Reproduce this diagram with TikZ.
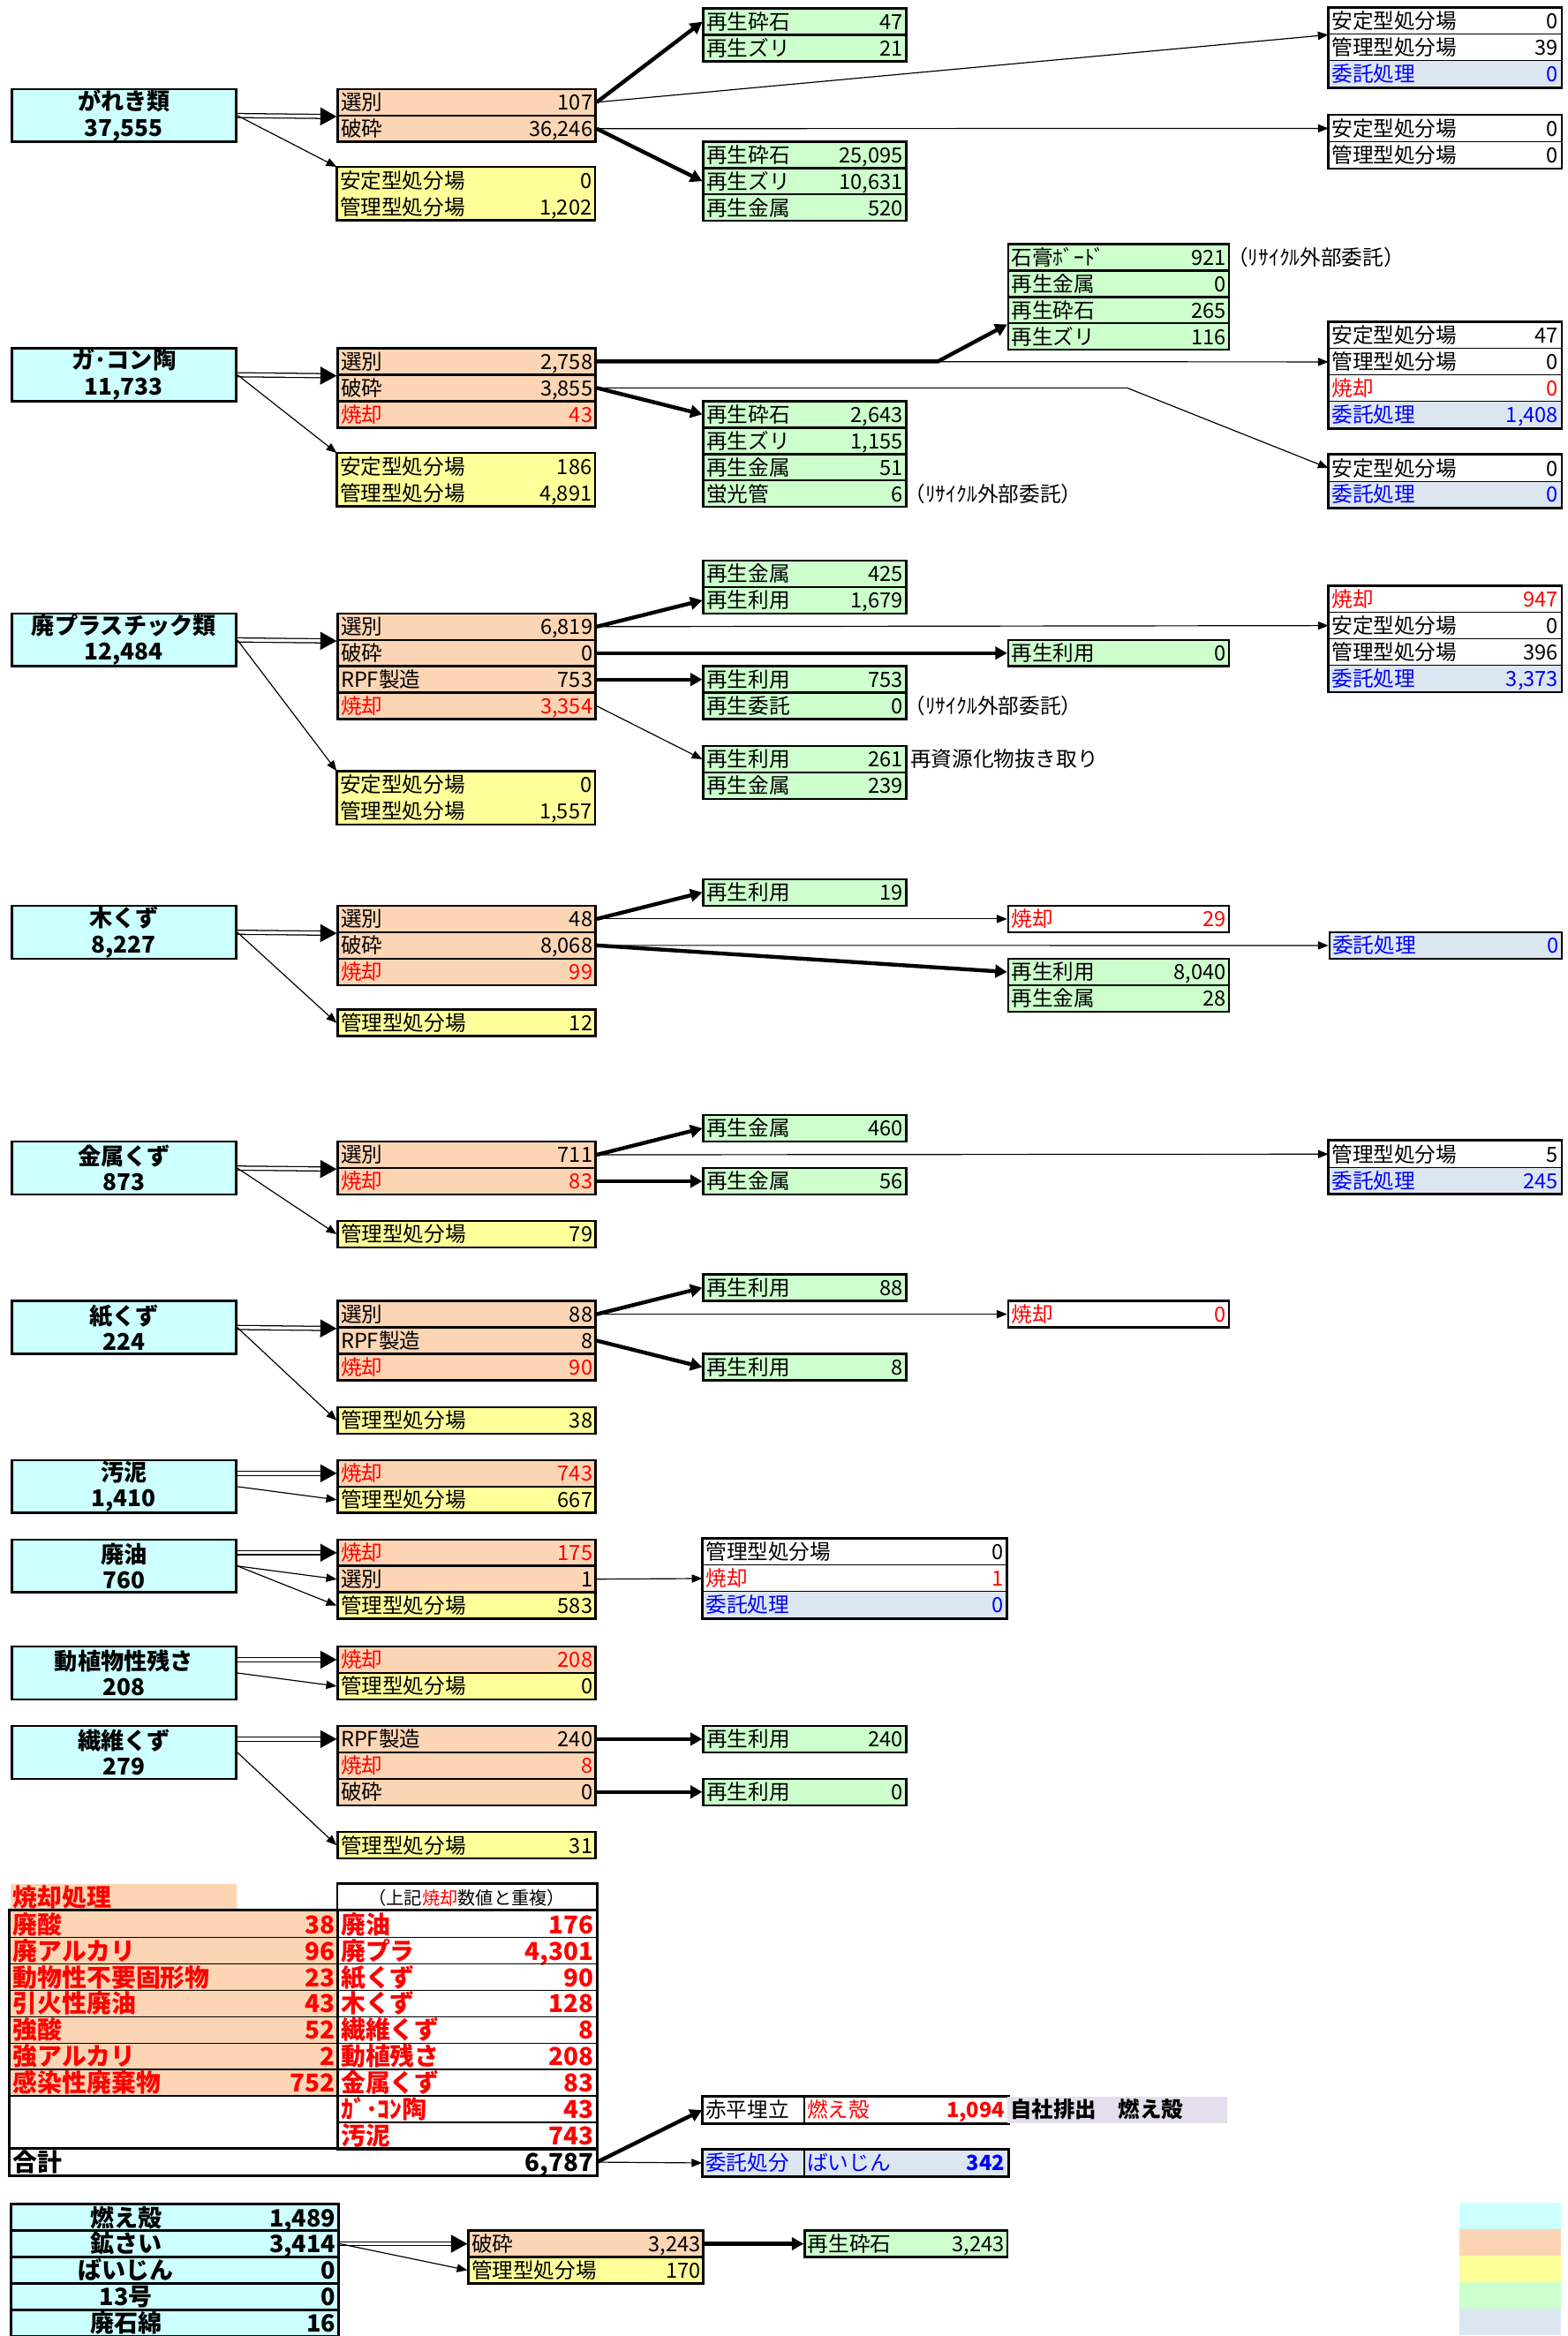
\documentclass[tikz,border=0pt]{standalone}
\usepackage{fontspec}
\setmainfont{Noto Sans CJK JP}
\usetikzlibrary{arrows.meta}
\definecolor{srccyan}{HTML}{CCFFFF}
\definecolor{procorange}{HTML}{FCD5B4}
\definecolor{landyellow}{HTML}{FFFF99}
\definecolor{recygreen}{HTML}{CCFFCC}
\definecolor{itakublue}{HTML}{DCE6F1}
\definecolor{jishalav}{HTML}{E4DFEC}

\begin{document}
\begin{tikzpicture}[x=1pt, y=-1pt,
    font=\fontsize{14}{16}\selectfont,
    cell/.style={anchor=north west, inner xsep=2pt, inner ysep=0pt, minimum height=17.75pt, text height=12.5pt, text depth=2pt},
    colB/.style={text width=169pt},
    colC/.style={text width=132pt},
    colD/.style={text width=144pt},
    colE/.style={text width=152pt},
    src/.style={anchor=north west, draw, fill=srccyan, line width=1.6pt, inner sep=0pt, minimum width=150.7pt, minimum height=35.5pt, align=center, font=\bfseries\fontsize{15.5}{17.5}\selectfont},
    proc/.style={cell, colB, draw, fill=procorange, line width=1.5pt},
    land/.style={cell, colB, fill=landyellow},
    recy/.style={cell, draw, fill=recygreen, line width=1.5pt},
    dest/.style={cell, colE, draw, line width=0.6pt},
    burn/.style={text=red},
    itaku/.style={fill=itakublue, text=blue},
    boxframe/.style={line width=1.6pt},
    tcell/.style={cell, draw, line width=0.9pt, text=red, font=\bfseries\fontsize{16.5}{17}\selectfont, text height=14.2pt, text depth=1.6pt},
    btab/.style={cell, draw, fill=srccyan, line width=1.5pt, text width=215.8pt, font=\bfseries\fontsize{16}{17}\selectfont, text height=14pt, text depth=1.6pt},
    note/.style={anchor=west, inner sep=0pt, xshift=-2pt},
    lean/.style={line width=0.7pt, -{Triangle[length=7pt,width=5.5pt]}},
    heavy/.style={line width=2.6pt, -{Triangle[length=8pt,width=8.5pt]}},
    dbl/.style={double, double distance=2pt, line width=0.75pt, -{Triangle[length=11pt,width=12pt]}}
  ]
  \useasboundingbox (0,0) rectangle (1052,1568);

  % がれき類
  \node[src] (src1) at (7,59) {がれき類\\37,555};
  \node[proc] (p1a) at (226,59) {選別\hfill 107};
  \node[proc] (p1b) at (226,76.75) {破砕\hfill 36,246};
  \node[land] (l1a) at (226,112) {安定型処分場\hfill 0};
  \node[land] (l1b) at (226,129.75) {管理型処分場\hfill 1,202};
  \draw[boxframe] (l1a.north west) rectangle (l1b.south east);
  \node[recy, colC] (g1a1) at (471.4,5) {再生砕石\hfill 47};
  \node[recy, colC] (g1a2) at (471.4,22.75) {再生ズリ\hfill 21};
  \node[recy, colC] (g1b1) at (471.4,94.25) {再生砕石\hfill 25,095};
  \node[recy, colC] (g1b2) at (471.4,112) {再生ズリ\hfill 10,631};
  \node[recy, colC] (g1b3) at (471.4,129.75) {再生金属\hfill 520};
  \node[dest] (r1a1) at (891.6,5) {安定型処分場\hfill 0};
  \node[dest] (r1a2) at (891.6,22.75) {管理型処分場\hfill 39};
  \node[dest, itaku] (r1a3) at (891.6,40.5) {委託処理\hfill 0};
  \draw[boxframe] (r1a1.north west) rectangle (r1a3.south east);
  \node[dest] (r1b1) at (891.6,77) {安定型処分場\hfill 0};
  \node[dest] (r1b2) at (891.6,94.75) {管理型処分場\hfill 0};
  \draw[boxframe] (r1b1.north west) rectangle (r1b2.south east);
  \draw[dbl] (src1.east) -- (p1a.south west);
  \draw[lean] (src1.east) -- (l1a.north west);
  \draw[heavy] (p1a.east) -- (g1a1.west);
  \draw[lean] (p1a.east) -- (r1a1.south west);
  \draw[lean] (p1b.east) -- (r1b1.west);
  \draw[heavy] (p1b.east) -- (g1b2.west);

  % ガ・コン陶
  \node[src] (src2) at (7,233) {ガ･コン陶\\11,733};
  \node[proc] (p2a) at (226,233) {選別\hfill 2,758};
  \node[proc] (p2b) at (226,250.75) {破砕\hfill 3,855};
  \node[proc, burn] (p2c) at (226,268.5) {焼却\hfill 43};
  \node[land] (l2a) at (226,304) {安定型処分場\hfill 186};
  \node[land] (l2b) at (226,321.75) {管理型処分場\hfill 4,891};
  \draw[boxframe] (l2a.north west) rectangle (l2b.south east);
  \node[recy, colD] (g2a1) at (676,163) {石膏ﾎﾞｰﾄﾞ\hfill 921};
  \node[recy, colD] (g2a2) at (676,180.75) {再生金属\hfill 0};
  \node[recy, colD] (g2a3) at (676,198.5) {再生砕石\hfill 265};
  \node[recy, colD] (g2a4) at (676,216.25) {再生ズリ\hfill 116};
  \node[note] (n2a) at (g2a1.east) {（ﾘｻｲｸﾙ外部委託）};
  \node[recy, colC] (g2b1) at (471.4,268.5) {再生砕石\hfill 2,643};
  \node[recy, colC] (g2b2) at (471.4,286.25) {再生ズリ\hfill 1,155};
  \node[recy, colC] (g2b3) at (471.4,304) {再生金属\hfill 51};
  \node[recy, colC] (g2b4) at (471.4,321.75) {蛍光管\hfill 6};
  \node[note] (n2b) at (g2b4.east) {（ﾘｻｲｸﾙ外部委託）};
  \node[dest] (r2a1) at (891.6,216) {安定型処分場\hfill 47};
  \node[dest] (r2a2) at (891.6,233.75) {管理型処分場\hfill 0};
  \node[dest, burn] (r2a3) at (891.6,251.5) {焼却\hfill 0};
  \node[dest, itaku] (r2a4) at (891.6,269.25) {委託処理\hfill 1,408};
  \draw[boxframe] (r2a1.north west) rectangle (r2a4.south east);
  \node[dest] (r2b1) at (891.6,305) {安定型処分場\hfill 0};
  \node[dest, itaku] (r2b2) at (891.6,322.75) {委託処理\hfill 0};
  \draw[boxframe] (r2b1.north west) rectangle (r2b2.south east);
  \draw[dbl] (src2.east) -- (p2a.south west);
  \draw[lean] (src2.east) -- (l2a.north west);
  \draw[lean] (p2a.east) -- (r2a2.west);
  \draw[heavy] (p2a.east) -- ++(229,0) -- (g2a3.south west);
  \draw[lean] (p2b.east) -- ++(356,0) -- (r2b1.west);
  \draw[heavy] (p2b.east) -- (g2b1.west);

  % 廃プラスチック類
  \node[src] (src3) at (7,411) {廃プラスチック類\\12,484};
  \node[proc] (p3a) at (226,411) {選別\hfill 6,819};
  \node[proc] (p3b) at (226,428.75) {破砕\hfill 0};
  \node[proc] (p3c) at (226,446.5) {RPF製造\hfill 753};
  \node[proc, burn] (p3d) at (226,464.25) {焼却\hfill 3,354};
  \node[land] (l3a) at (226,517.5) {安定型処分場\hfill 0};
  \node[land] (l3b) at (226,535.25) {管理型処分場\hfill 1,557};
  \draw[boxframe] (l3a.north west) rectangle (l3b.south east);
  \node[recy, colC] (g3a1) at (471.4,375.6) {再生金属\hfill 425};
  \node[recy, colC] (g3a2) at (471.4,393.35) {再生利用\hfill 1,679};
  \node[recy, colD] (g3m) at (676,428.75) {再生利用\hfill 0};
  \node[recy, colC] (g3b1) at (471.4,446.5) {再生利用\hfill 753};
  \node[recy, colC] (g3b2) at (471.4,464.25) {再生委託\hfill 0};
  \node[note] (n3b) at (g3b2.east) {（ﾘｻｲｸﾙ外部委託）};
  \node[recy, colC] (g3c1) at (471.4,500) {再生利用\hfill 261};
  \node[recy, colC] (g3c2) at (471.4,517.75) {再生金属\hfill 239};
  \node[note, xshift=4pt] (n3c) at (g3c1.east) {再資源化物抜き取り};
  \node[dest, burn] (r3a) at (891.6,393) {焼却\hfill 947};
  \node[dest] (r3b) at (891.6,410.75) {安定型処分場\hfill 0};
  \node[dest] (r3c) at (891.6,428.5) {管理型処分場\hfill 396};
  \node[dest, itaku] (r3d) at (891.6,446.25) {委託処理\hfill 3,373};
  \draw[boxframe] (r3a.north west) rectangle (r3d.south east);
  \draw[dbl] (src3.east) -- (p3a.south west);
  \draw[lean] (src3.east) -- (l3a.north west);
  \draw[heavy] (p3a.east) -- (g3a2.west);
  \draw[lean] (p3a.east) -- (r3b.west);
  \draw[heavy] (p3b.east) -- (g3m.west);
  \draw[heavy] (p3c.east) -- (g3b1.west);
  \draw[lean] (p3d.east) -- (g3c1.west);

  % 木くず
  \node[src] (src4) at (7,607.2) {木くず\\8,227};
  \node[proc] (p4a) at (226,607.2) {選別\hfill 48};
  \node[proc] (p4b) at (226,624.95) {破砕\hfill 8,068};
  \node[proc, burn] (p4c) at (226,642.7) {焼却\hfill 99};
  \node[land, draw, line width=1.5pt] (l4) at (226,677) {管理型処分場\hfill 12};
  \node[recy, colC] (g4a) at (471.4,589.4) {再生利用\hfill 19};
  \node[cell, colD, draw, line width=1.5pt, burn] (yk4) at (676,607.2) {焼却\hfill 29};
  \node[dest, itaku, line width=1.5pt] (r4) at (891.6,625) {委託処理\hfill 0};
  \node[recy, colD] (g4b1) at (676,642.8) {再生利用\hfill 8,040};
  \node[recy, colD] (g4b2) at (676,660.55) {再生金属\hfill 28};
  \draw[dbl] (src4.east) -- (p4a.south west);
  \draw[lean] (src4.east) -- (l4.west);
  \draw[heavy] (p4a.east) -- (g4a.west);
  \draw[lean] (p4a.east) -- (yk4.west);
  \draw[lean] (p4b.east) -- (r4.west);
  \draw[heavy] (p4b.east) -- (g4b1.west);

  % 金属くず
  \node[src] (src5) at (7,765.5) {金属くず\\873};
  \node[proc] (p5a) at (226,765.5) {選別\hfill 711};
  \node[proc, burn] (p5b) at (226,783.25) {焼却\hfill 83};
  \node[land, draw, line width=1.5pt] (l5) at (226,818.8) {管理型処分場\hfill 79};
  \node[recy, colC] (g5a) at (471.4,747.7) {再生金属\hfill 460};
  \node[recy, colC] (g5b) at (471.4,783.25) {再生金属\hfill 56};
  \node[dest] (r5a) at (891.6,765.5) {管理型処分場\hfill 5};
  \node[dest, itaku] (r5b) at (891.6,783.25) {委託処理\hfill 245};
  \draw[boxframe] (r5a.north west) rectangle (r5b.south east);
  \draw[dbl] (src5.east) -- (p5a.south west);
  \draw[lean] (src5.east) -- (l5.west);
  \draw[heavy] (p5a.east) -- (g5a.west);
  \draw[lean] (p5a.east) -- (r5a.west);
  \draw[heavy] (p5b.east) -- (g5b.west);

  % 紙くず
  \node[src] (src6) at (7,872.5) {紙くず\\224};
  \node[proc] (p6a) at (226,872.5) {選別\hfill 88};
  \node[proc] (p6b) at (226,890.25) {RPF製造\hfill 8};
  \node[proc, burn] (p6c) at (226,908) {焼却\hfill 90};
  \node[land, draw, line width=1.5pt] (l6) at (226,943.8) {管理型処分場\hfill 38};
  \node[recy, colC] (g6a) at (471.4,854.75) {再生利用\hfill 88};
  \node[recy, colC] (g6b) at (471.4,908) {再生利用\hfill 8};
  \node[cell, colD, draw, line width=1.5pt, burn] (yk6) at (676,872.5) {焼却\hfill 0};
  \draw[dbl] (src6.east) -- (p6a.south west);
  \draw[lean] (src6.east) -- (l6.west);
  \draw[heavy] (p6a.east) -- (g6a.west);
  \draw[lean] (p6a.east) -- (yk6.west);
  \draw[heavy] (p6b.east) -- (g6b.west);

  % 汚泥
  \node[src] (src7) at (7,979.3) {汚泥\\1,410};
  \node[proc, burn] (p7a) at (226,979.3) {焼却\hfill 743};
  \node[land, draw, line width=1.5pt] (p7b) at (226,997.05) {管理型処分場\hfill 667};
  \draw[dbl] (src7.east |- p7a.west) -- (p7a.west);
  \draw[lean] (src7.east) -- (p7b.west);

  % 廃油
  \node[src] (src8) at (7,1032.6) {廃油\\760};
  \node[proc, burn] (p8a) at (226,1032.6) {焼却\hfill 175};
  \node[proc] (p8b) at (226,1050.35) {選別\hfill 1};
  \node[land, draw, line width=1.5pt] (p8c) at (226,1068.1) {管理型処分場\hfill 583};
  \node[dest, text width=200pt] (r8a) at (471.4,1032.6) {管理型処分場\hfill 0};
  \node[dest, text width=200pt, burn] (r8b) at (471.4,1050.35) {焼却\hfill 1};
  \node[dest, text width=200pt, itaku] (r8c) at (471.4,1068.1) {委託処理\hfill 0};
  \draw[boxframe] (r8a.north west) rectangle (r8c.south east);
  \draw[dbl] (src8.east |- p8a.west) -- (p8a.west);
  \draw[lean] (src8.east) -- (p8b.west);
  \draw[lean] (src8.east) -- (p8c.west);
  \draw[lean] (p8b.east) -- (r8b.west);

  % 動植物性残さ
  \node[src] (src9) at (7,1104.4) {動植物性残さ\\208};
  \node[proc, burn] (p9a) at (226,1104.4) {焼却\hfill 208};
  \node[land, draw, line width=1.5pt] (p9b) at (226,1122.15) {管理型処分場\hfill 0};
  \draw[dbl] (src9.east |- p9a.west) -- (p9a.west);
  \draw[lean] (src9.east) -- (p9b.west);

  % 繊維くず
  \node[src] (src10) at (7,1157.7) {繊維くず\\279};
  \node[proc] (p10a) at (226,1157.7) {RPF製造\hfill 240};
  \node[proc, burn] (p10b) at (226,1175.45) {焼却\hfill 8};
  \node[proc] (p10c) at (226,1193.2) {破砕\hfill 0};
  \node[land, draw, line width=1.5pt] (l10) at (226,1229) {管理型処分場\hfill 31};
  \node[recy, colC] (g10a) at (471.4,1157.7) {再生利用\hfill 240};
  \node[recy, colC] (g10b) at (471.4,1193.2) {再生利用\hfill 0};
  \draw[dbl] (src10.east |- p10a.west) -- (p10a.west);
  \draw[lean] (src10.east) -- (l10.west);
  \draw[heavy] (p10a.east) -- (g10a.west);
  \draw[heavy] (p10c.east) -- (g10b.west);

  % 焼却処理
  \node[tcell, draw=none, fill=procorange, text width=147.9pt] (hdr) at (6.4,1264.2) {焼却処理};
  \node[cell, text width=169.4pt, align=center, font=\fontsize{12}{13}\selectfont] (hdr2) at (226.4,1264.2) {（上記{\color{red}焼却}数値と重複）};
  \node[tcell, fill=procorange, text width=216pt] (t1) at (6.4,1282.2) {廃酸\hfill 38};
  \node[tcell, fill=procorange, text width=216pt] (t2) at (6.4,1299.95) {廃アルカリ\hfill 96};
  \node[tcell, fill=procorange, text width=216pt] (t3) at (6.4,1317.7) {動物性不要固形物\hfill 23};
  \node[tcell, fill=procorange, text width=216pt] (t4) at (6.4,1335.45) {引火性廃油\hfill 43};
  \node[tcell, fill=procorange, text width=216pt] (t5) at (6.4,1353.2) {強酸\hfill 52};
  \node[tcell, fill=procorange, text width=216pt] (t6) at (6.4,1370.95) {強アルカリ\hfill 2};
  \node[tcell, fill=procorange, text width=216pt] (t7) at (6.4,1388.7) {感染性廃棄物\hfill 752};
  \node[tcell, text width=216pt, minimum height=35.5pt] (tb) at (6.4,1406.45) {};
  \node[tcell, text width=169.4pt] (u1) at (226.4,1282.2) {廃油\hfill 176};
  \node[tcell, text width=169.4pt] (u2) at (226.4,1299.95) {廃プラ\hfill 4,301};
  \node[tcell, text width=169.4pt] (u3) at (226.4,1317.7) {紙くず\hfill 90};
  \node[tcell, text width=169.4pt] (u4) at (226.4,1335.45) {木くず\hfill 128};
  \node[tcell, text width=169.4pt] (u5) at (226.4,1353.2) {繊維くず\hfill 8};
  \node[tcell, text width=169.4pt] (u6) at (226.4,1370.95) {動植残さ\hfill 208};
  \node[tcell, text width=169.4pt] (u7) at (226.4,1388.7) {金属くず\hfill 83};
  \node[tcell, text width=169.4pt] (u8) at (226.4,1406.45) {ｶﾞ･ｺﾝ陶\hfill 43};
  \node[tcell, text width=169.4pt] (u9) at (226.4,1424.2) {汚泥\hfill 743};
  \node[tcell, text=black, text width=389.4pt] (total) at (6.4,1441.95) {合計\hfill 6,787};
  \draw[boxframe] (hdr2.north west) rectangle (u9.south east);
  \draw[boxframe] (t1.north west) rectangle (total.south east);
  \draw[boxframe] (total.north west) rectangle (total.south east);
  \node[cell, text width=64.1pt, draw, line width=0.9pt] (aka1) at (471.2,1407) {赤平埋立};
  \node[cell, text width=132.7pt, draw, line width=0.9pt, burn] (aka2) at (539.3,1407) {燃え殻\hfill\textbf{1,094}};
  \draw[boxframe] (aka1.north west) rectangle (aka2.south east);
  \node[cell, text width=143.6pt, fill=jishalav, font=\bfseries\fontsize{14.5}{16}\selectfont] (jisha) at (676,1407) {自社排出　燃え殻};
  \node[cell, text width=64.1pt, draw, line width=0.9pt, itaku] (itk1) at (471.2,1442.5) {委託処分};
  \node[cell, text width=132.7pt, draw, line width=0.9pt, itaku] (itk2) at (539.3,1442.5) {ばいじん\hfill\textbf{342}};
  \draw[boxframe] (itk1.north west) rectangle (itk2.south east);
  \draw[heavy] (total.east) -- (aka1.west);
  \draw[lean] (total.east) -- (itk1.west);

  % 燃え殻・鉱さい
  \node[btab] (b1) at (6.8,1478.7) {\makebox[150pt][c]{燃え殻}\hfill 1,489};
  \node[btab] (b2) at (6.8,1496.45) {\makebox[150pt][c]{鉱さい}\hfill 3,414};
  \node[btab] (b3) at (6.8,1514.2) {\makebox[150pt][c]{ばいじん}\hfill 0};
  \node[btab] (b4) at (6.8,1531.95) {\makebox[150pt][c]{13号}\hfill 0};
  \node[btab] (b5) at (6.8,1549.7) {\makebox[150pt][c]{廃石綿}\hfill 16};
  \node[proc, text width=153.7pt] (p12a) at (313.7,1496.45) {破砕\hfill 3,243};
  \node[land, draw, line width=1.5pt, text width=153.7pt] (p12b) at (313.7,1514.2) {管理型処分場\hfill 170};
  \node[recy, colC] (g12) at (539.4,1496.45) {再生砕石\hfill 3,243};
  \draw[dbl] (b2.east) -- (p12a.west);
  \draw[lean] (b2.east) -- (p12b.west);
  \draw[heavy] (p12a.east) -- (g12.west);

  % legend colours
  \fill[srccyan] (979.5,1478.7) rectangle (1047.6,1496.45);
  \fill[procorange] (979.5,1496.45) rectangle (1047.6,1514.2);
  \fill[landyellow] (979.5,1514.2) rectangle (1047.6,1531.95);
  \fill[recygreen] (979.5,1531.95) rectangle (1047.6,1549.7);
  \fill[itakublue] (979.5,1549.7) rectangle (1047.6,1567.45);
\end{tikzpicture}
\end{document}
